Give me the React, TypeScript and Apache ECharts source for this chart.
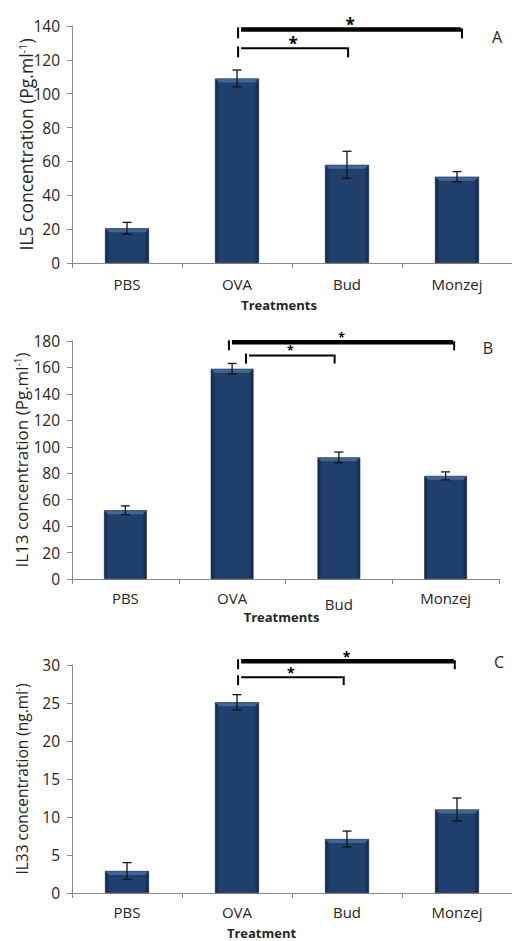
import React, { useEffect, useRef } from 'react';
import * as echarts from 'echarts';

const categories = ['PBS', 'OVA', 'Bud', 'Monzej'];

const il5Means = [20.5, 109, 58, 51];
const il5Errors = [3.5, 5, 8, 3];
const il13Means = [52, 159, 92, 78];
const il13Errors = [3.3, 4, 4, 3];
const il33Means = [2.9, 25.1, 7.1, 11];
const il33Errors = [1.1, 1.0, 1.05, 1.5];

// significance brackets: [from position (category units), to position, y value, thick(1)/thin(0)]
const il5Brackets = [
  [1.01, 3.045, 138, 1],
  [1.01, 2.01, 126.8, 0],
];
const il13Brackets = [
  [0.97, 3.08, 179, 1],
  [1.13, 1.96, 169, 0],
];
const il33Brackets = [
  [1.01, 2.98, 30.5, 1],
  [1.01, 1.97, 28.4, 0],
];

const yTicksA = { min: 0, max: 140, interval: 20 };
const yTicksB = { min: 0, max: 180, interval: 20 };
const yTicksC = { min: 0, max: 30, interval: 5 };

const panelLetters = ['A', 'B', 'C'];

const FONT = '"Open Sans", "Noto Sans", sans-serif';
const TEXT = '#262626';
const AXIS = '#8a8a8a';

const panels = [
  {
    grid: { left: 72, top: 26, width: 440, height: 237 },
    means: il5Means,
    errors: il5Errors,
    brackets: il5Brackets,
    ticks: yTicksA,
    yName: 'IL5 concentration (Pg.ml{sup|-1})',
    yNameSize: 17.5,
    yNameGap: 37,
    xName: 'Treatments',
    xNameGap: 35,
    xNamePad: 26,
    labelMargin: 13,
    starSize: 17,
    tickLen: 9,
    letter: { x: 497, y: 37 },
  },
  {
    grid: { left: 72, top: 341, width: 427, height: 238 },
    means: il13Means,
    errors: il13Errors,
    brackets: il13Brackets,
    ticks: yTicksB,
    yName: 'IL13 concentration (Pg.ml{sup|-1})',
    yNameSize: 17,
    yNameGap: 42,
    xName: 'Treatments',
    xNameGap: 31,
    xNamePad: 8,
    labelMargin: 11,
    starSize: 12,
    tickLen: 8,
    lowBud: true,
    letter: { x: 488, y: 348 },
  },
  {
    grid: { left: 72, top: 665, width: 440, height: 228 },
    means: il33Means,
    errors: il33Errors,
    brackets: il33Brackets,
    ticks: yTicksC,
    yName: 'IL33 concentration (ng.ml{sup|-})',
    yNameSize: 15.5,
    yNameGap: 42,
    xName: 'Treatment',
    xNameGap: 33,
    xNamePad: 61,
    labelMargin: 11,
    starSize: 14,
    tickLen: 8,
    letter: { x: 499, y: 662 },
  },
];

const barGradient = new echarts.graphic.LinearGradient(0, 0, 1, 0, [
  { offset: 0, color: '#112646' },
  { offset: 0.1, color: '#1f3f6d' },
  { offset: 0.9, color: '#1f3f6d' },
  { offset: 1, color: '#112646' },
]);

function buildOption() {
  const grid: any[] = [];
  const xAxis: any[] = [];
  const yAxis: any[] = [];
  const series: any[] = [];
  const graphic: any[] = [];

  panels.forEach((p, i) => {
    grid.push({ ...p.grid, containLabel: false });
    xAxis.push({
      type: 'category',
      gridIndex: i,
      data: categories,
      boundaryGap: true,
      axisLine: { lineStyle: { color: AXIS, width: 1 } },
      axisTick: { show: true, length: 5, lineStyle: { color: AXIS } },
      axisLabel: {
        fontFamily: FONT,
        fontSize: 15,
        color: TEXT,
        margin: p.labelMargin,
        formatter: (v: string) => (p.lowBud && v === 'Bud' ? '{low|' + v + '}' : v),
        rich: { low: { fontFamily: FONT, fontSize: 15, color: TEXT, padding: [6, 0, 0, 0] } },
      },
      name: p.xName,
      nameLocation: 'middle',
      nameGap: p.xNameGap,
      nameMoveOverlap: false,
      nameTextStyle: {
        fontFamily: FONT,
        fontSize: 13,
        fontWeight: 'bold',
        color: TEXT,
        padding: [0, p.xNamePad, 0, 0],
      },
    });
    yAxis.push({
      type: 'value',
      gridIndex: i,
      min: p.ticks.min,
      max: p.ticks.max,
      interval: p.ticks.interval,
      splitLine: { show: false },
      axisLine: { show: true, lineStyle: { color: AXIS, width: 1 } },
      axisTick: { show: true, length: 5, lineStyle: { color: AXIS } },
      axisLabel: { fontFamily: FONT, fontSize: 15.5, color: TEXT, margin: 12 },
      name: p.yName,
      nameLocation: 'middle',
      nameGap: p.yNameGap,
      nameMoveOverlap: false,
      nameTextStyle: {
        fontFamily: FONT,
        fontSize: p.yNameSize,
        color: TEXT,
        rich: {
          sup: { fontFamily: FONT, fontSize: Math.round(p.yNameSize * 0.6), color: TEXT, verticalAlign: 'top' },
        },
      },
    });

    series.push({
      type: 'bar',
      xAxisIndex: i,
      yAxisIndex: i,
      data: p.means,
      barWidth: '40%',
      itemStyle: { color: barGradient, borderColor: '#0d1f3a', borderWidth: 0.6 },
      z: 2,
    });

    // bevel highlight on bar tops + error bars
    series.push({
      type: 'custom',
      xAxisIndex: i,
      yAxisIndex: i,
      z: 4,
      encode: { x: 0, y: [1, 2] },
      data: p.means.map((m, k) => [k, m - p.errors[k], m + p.errors[k], m]),
      renderItem: (params: any, api: any) => {
        const lo = api.coord([api.value(0), api.value(1)]);
        const hi = api.coord([api.value(0), api.value(2)]);
        const top = api.coord([api.value(0), api.value(3)]);
        const bw = api.size([1, 0])[0] * 0.4;
        const x = lo[0];
        const cap = 4.5;
        const st = { stroke: '#141414', lineWidth: 1.3 };
        return {
          type: 'group',
          children: [
            {
              type: 'polygon',
              shape: {
                points: [
                  [x - bw / 2 + 0.5, top[1] + 0.5],
                  [x + bw / 2 - 0.5, top[1] + 0.5],
                  [x + bw / 2 - 4, top[1] + 4],
                  [x - bw / 2 + 4, top[1] + 4],
                ],
              },
              style: { fill: '#4a6c9b', opacity: 0.85 },
            },
            { type: 'line', shape: { x1: x, y1: hi[1], x2: x, y2: lo[1] }, style: st },
            { type: 'line', shape: { x1: x - cap, y1: hi[1], x2: x + cap, y2: hi[1] }, style: st },
            { type: 'line', shape: { x1: x - cap, y1: lo[1], x2: x + cap, y2: lo[1] }, style: st },
          ],
        };
      },
    });

    series.push({
      type: 'custom',
      xAxisIndex: i,
      yAxisIndex: i,
      z: 5,
      clip: false,
      encode: { x: 0, y: 1 },
      data: p.brackets.map((b) => [0, b[2], b[0], b[1], b[3]]),
      renderItem: (params: any, api: any) => {
        const base = api.coord([0, api.value(1)]);
        const band = api.size([1, 0])[0];
        const x1 = base[0] + api.value(2) * band;
        const x2 = base[0] + api.value(3) * band;
        const y = base[1];
        const thick = api.value(4) === 1;
        const lw = thick ? 4.5 : 2;
        const tk = { stroke: '#000', lineWidth: 2 };
        return {
          type: 'group',
          children: [
            {
              type: 'line',
              shape: { x1: x1 + 3, y1: y, x2: x2 - 1, y2: y },
              style: { stroke: '#000', lineWidth: lw },
            },
            { type: 'line', shape: { x1: x1, y1: y - 2, x2: x1, y2: y + p.tickLen }, style: tk },
            { type: 'line', shape: { x1: x2, y1: y - 1, x2: x2, y2: y + p.tickLen }, style: tk },
            {
              type: 'text',
              x: (x1 + x2) / 2,
              y: y - 5,
              style: {
                text: '*',
                fontFamily: FONT,
                fontSize: p.starSize,
                fontWeight: 'bold',
                fill: '#000',
                align: 'center',
                verticalAlign: 'middle',
              },
            },
          ],
        };
      },
    });

    graphic.push({
      type: 'text',
      x: p.letter.x,
      y: p.letter.y,
      style: {
        text: panelLetters[i],
        fontFamily: FONT,
        fontSize: 16,
        fill: TEXT,
        align: 'center',
        verticalAlign: 'middle',
      },
    });
  });

  return {
    animation: false,
    backgroundColor: '#ffffff',
    grid,
    xAxis,
    yAxis,
    series,
    graphic,
  };
}

export default function App() {
  const ref = useRef<HTMLDivElement>(null);
  useEffect(() => {
    if (!ref.current) return;
    const chart = echarts.init(ref.current, null, { renderer: 'svg' });
    chart.setOption(buildOption() as any);
    return () => chart.dispose();
  }, []);
  return (
    <div
      ref={ref}
      style={{ position: 'absolute', left: 0, top: 0, width: 512, height: 941, background: '#fff' }}
    />
  );
}
